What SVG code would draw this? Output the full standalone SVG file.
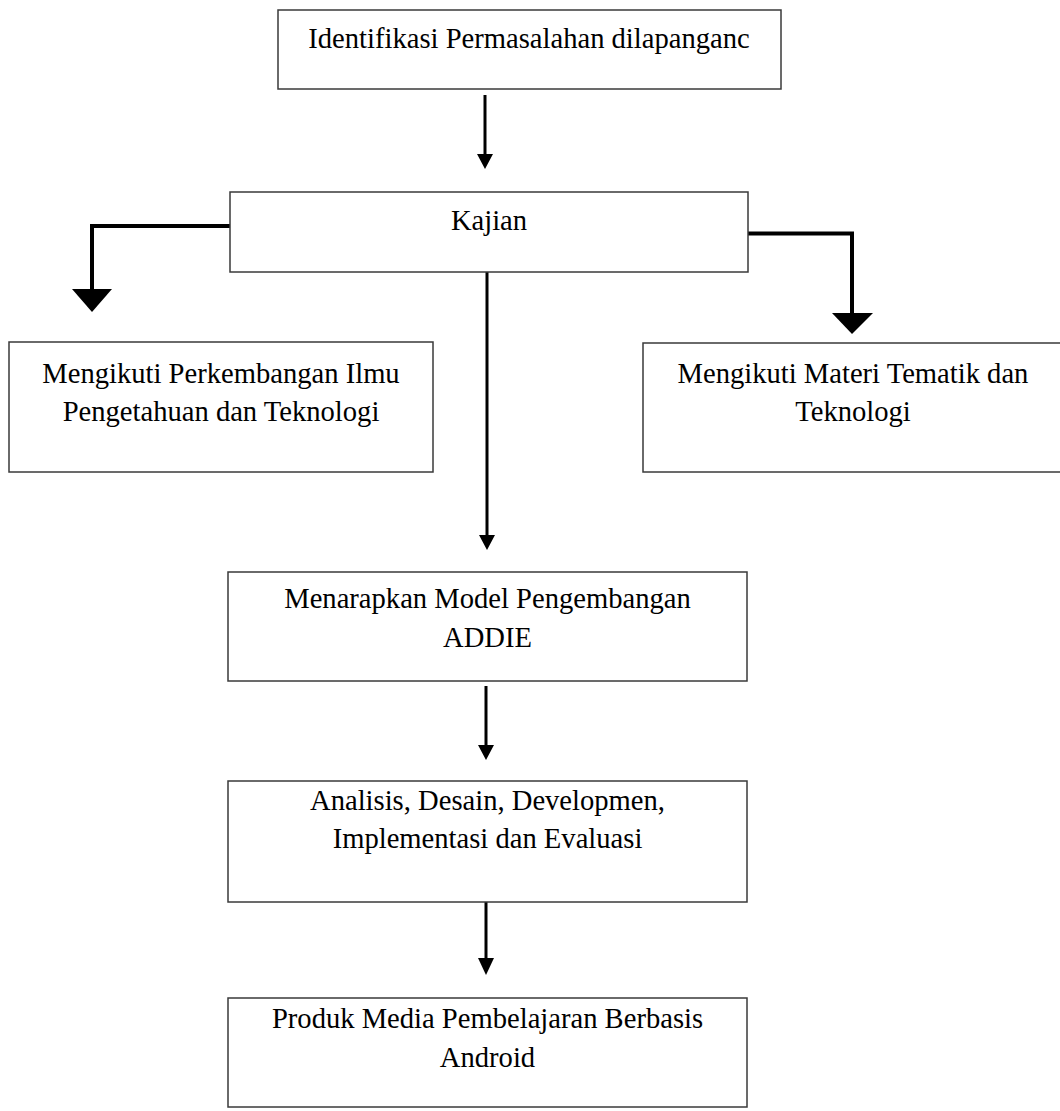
<svg xmlns="http://www.w3.org/2000/svg" width="1060" height="1111" viewBox="0 0 1060 1111">
<style>
.box{fill:#fff;stroke:#3a3a3a;stroke-width:1.5}
.t{font-family:"Liberation Serif","Times New Roman",serif;font-size:28.6px;fill:#000;text-anchor:middle}
.thin{stroke:#000;stroke-width:3;fill:none}
.thick{stroke:#000;stroke-width:4;fill:none}
.head{fill:#000}
</style>
<rect width="1060" height="1111" fill="#fff"/>
<g id="connectors">
<line class="thin" x1="485" y1="95" x2="485" y2="156"/>
<polygon class="head" points="477,154 493,154 485,169"/>
<polyline class="thick" points="230,226 92,226 92,291"/>
<polygon class="head" points="72,289 112,289 92,312"/>
<polyline class="thick" points="748,233.5 852,233.5 852,315"/>
<polygon class="head" points="832,313 873,313 852,334"/>
<line class="thin" x1="487" y1="271" x2="487" y2="537"/>
<polygon class="head" points="479,535 495,535 487,550"/>
<line class="thin" x1="486" y1="686" x2="486" y2="747"/>
<polygon class="head" points="478,745 494,745 486,760"/>
<line class="thin" x1="486" y1="902" x2="486" y2="960"/>
<polygon class="head" points="478,958 494,958 486,975"/>
</g>
<g id="n1"><rect class="box" x="278" y="10" width="503" height="79"/><text class="t" x="529" y="48">Identifikasi Permasalahan dilapanganc</text></g>
<g id="n2"><rect class="box" x="230" y="192" width="518" height="80"/><text class="t" x="489" y="230">Kajian</text></g>
<g id="n3"><rect class="box" x="9" y="342" width="424" height="130"/><text class="t" x="221" y="383">Mengikuti Perkembangan Ilmu</text><text class="t" x="221" y="421">Pengetahuan dan Teknologi</text></g>
<g id="n4"><rect class="box" x="643" y="343" width="420" height="129"/><text class="t" x="853" y="383">Mengikuti Materi Tematik dan</text><text class="t" x="853" y="421">Teknologi</text></g>
<g id="n5"><rect class="box" x="228" y="572" width="519" height="109"/><text class="t" x="487.5" y="608">Menarapkan Model Pengembangan</text><text class="t" x="487.5" y="647">ADDIE</text></g>
<g id="n6"><rect class="box" x="228" y="781" width="519" height="121"/><text class="t" x="487.5" y="810">Analisis, Desain, Developmen,</text><text class="t" x="487.5" y="848">Implementasi dan Evaluasi</text></g>
<g id="n7"><rect class="box" x="228" y="998" width="519" height="109"/><text class="t" x="487.5" y="1028">Produk Media Pembelajaran Berbasis</text><text class="t" x="487.5" y="1067">Android</text></g>
</svg>
